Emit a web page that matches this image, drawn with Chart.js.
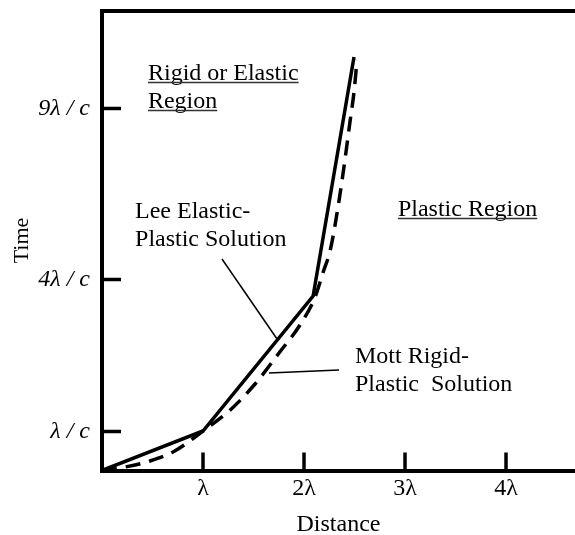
<!DOCTYPE html>
<html>
<head>
<meta charset="utf-8">
<script src="https://cdn.jsdelivr.net/npm/chart.js@4"></script>
<style>
  html, body { margin: 0; padding: 0; background: #fff; }
  #wrap { width: 575px; height: 535px; overflow: hidden; }
</style>
</head>
<body>
<div id="wrap"><canvas id="c" width="575" height="535"></canvas></div>
<script>
// ---- data (distance in units of λ, time in drawing units) ----
const xTickValues = [1, 2, 3, 4];
const xTickLabels = ['λ', '2λ', '3λ', '4λ'];
const yTickValues = [0.39, 1.91, 3.62];
const yTickLabels = ['λ / c', '4λ / c', '9λ / c'];

const leeX = [0, 1.0, 2.09, 2.495];
const leeY = [0, 0.395, 1.745, 4.135];

const mottX = [0, 0.23, 0.475, 0.72, 1.0, 1.27, 1.515, 1.76, 1.96, 2.11, 2.19, 2.26, 2.34, 2.405, 2.455, 2.495, 2.525];
const mottY = [0, 0.035, 0.095, 0.195, 0.395, 0.605, 0.865, 1.185, 1.455, 1.735, 1.985, 2.205, 2.655, 3.105, 3.485, 3.785, 4.105];

const labelTexts = [
  { lines: ['Rigid or Elastic', 'Region'], x: 0.455, y: 3.905, underline: true },
  { lines: ['Plastic Region'], x: 2.93, y: 2.545, underline: true },
  { lines: ['Lee Elastic-', 'Plastic Solution'], x: 0.327, y: 2.525, underline: false },
  { lines: ['Mott Rigid-', 'Plastic  Solution'], x: 2.505, y: 1.075, underline: false }
];
const leaderLines = [
  { x1: 1.188, y1: 2.115, x2: 1.733, y2: 1.315 },
  { x1: 1.653, y1: 0.975, x2: 2.347, y2: 1.005 }
];

const X_MAX = 4.683, Y_MAX = 4.6;
const FONT = "'Liberation Serif', 'Times New Roman', serif";

const toPts = (xs, ys) => xs.map((x, i) => ({ x: x, y: ys[i] }));

const innerTicks = {
  id: 'innerTicks',
  afterDraw(chart) {
    const { ctx, chartArea } = chart;
    const xs = chart.scales.x, ys = chart.scales.y;
    ctx.save();
    ctx.strokeStyle = '#000';
    ctx.lineWidth = 3.5;
    ctx.lineCap = 'butt';
    xTickValues.forEach(v => {
      const px = xs.getPixelForValue(v);
      ctx.beginPath();
      ctx.moveTo(px, chartArea.bottom);
      ctx.lineTo(px, chartArea.bottom - 18);
      ctx.stroke();
    });
    yTickValues.forEach(v => {
      const py = ys.getPixelForValue(v);
      ctx.beginPath();
      ctx.moveTo(chartArea.left, py);
      ctx.lineTo(chartArea.left + 19, py);
      ctx.stroke();
    });
    ctx.restore();
  }
};

const annotations = {
  id: 'annotations',
  afterDraw(chart) {
    const { ctx } = chart;
    const xs = chart.scales.x, ys = chart.scales.y;
    ctx.save();
    ctx.fillStyle = '#000';
    ctx.font = '24px ' + FONT;
    ctx.textBaseline = 'alphabetic';
    ctx.textAlign = 'left';
    labelTexts.forEach(t => {
      const px = xs.getPixelForValue(t.x);
      const py = ys.getPixelForValue(t.y);
      t.lines.forEach((line, i) => {
        const by = py + i * 28;
        ctx.fillText(line, px, by);
        if (t.underline) {
          const w = ctx.measureText(line).width;
          ctx.save();
          ctx.strokeStyle = '#333';
          ctx.lineWidth = 1.5;
          ctx.beginPath();
          ctx.moveTo(px, by + 2.5);
          ctx.lineTo(px + w, by + 2.5);
          ctx.stroke();
          ctx.restore();
        }
      });
    });
    ctx.strokeStyle = '#000';
    ctx.lineWidth = 1.5;
    leaderLines.forEach(l => {
      ctx.beginPath();
      ctx.moveTo(xs.getPixelForValue(l.x1), ys.getPixelForValue(l.y1));
      ctx.lineTo(xs.getPixelForValue(l.x2), ys.getPixelForValue(l.y2));
      ctx.stroke();
    });
    ctx.restore();
  }
};

new Chart(document.getElementById('c'), {
  type: 'line',
  data: {
    datasets: [
      {
        label: 'Mott Rigid-Plastic Solution',
        data: toPts(mottX, mottY),
        borderColor: '#000',
        borderWidth: 3.5,
        borderDash: [15, 9],
        borderCapStyle: 'butt',
        cubicInterpolationMode: 'monotone',
        pointRadius: 0,
        fill: false
      },
      {
        label: 'Lee Elastic-Plastic Solution',
        data: toPts(leeX, leeY),
        borderColor: '#000',
        borderWidth: 3.5,
        tension: 0,
        pointRadius: 0,
        fill: false
      }
    ]
  },
  options: {
    responsive: false,
    animation: false,
    devicePixelRatio: 1,
    layout: { padding: { left: 0, right: 0, top: 10.5, bottom: 0 } },
    plugins: { legend: { display: false }, tooltip: { enabled: false } },
    scales: {
      x: {
        type: 'linear',
        position: 'bottom',
        min: 0, max: X_MAX,
        afterBuildTicks: s => { s.ticks = xTickValues.map(v => ({ value: v })); },
        afterFit: s => { s.height = 64.5; s.paddingLeft = 0; s.paddingRight = 0; },
        grid: { display: false, drawTicks: false },
        border: { display: true, color: '#000', width: 4 },
        ticks: {
          autoSkip: false, maxRotation: 0, padding: 4, color: '#000',
          font: { family: FONT, size: 24 },
          callback: (v, i) => xTickLabels[i]
        },
        title: {
          display: true, text: 'Distance', color: '#000',
          font: { family: FONT, size: 24 },
          padding: { top: 0, bottom: -4 }
        }
      },
      xTop: {
        type: 'linear',
        position: 'top',
        min: 0, max: X_MAX,
        afterFit: s => { s.height = 0; s.paddingLeft = 0; s.paddingRight = 0; },
        grid: { display: false, drawTicks: false },
        border: { display: true, color: '#000', width: 4 },
        ticks: { display: false }
      },
      y: {
        type: 'linear',
        position: 'left',
        min: 0, max: Y_MAX,
        afterBuildTicks: s => { s.ticks = yTickValues.map(v => ({ value: v })); },
        afterFit: s => { s.width = 102; s.paddingTop = 0; s.paddingBottom = 0; },
        grid: { display: false, drawTicks: false },
        border: { display: true, color: '#000', width: 4 },
        ticks: {
          autoSkip: false, padding: 12, color: '#000',
          font: { family: FONT, size: 24, style: 'italic' },
          callback: (v, i) => yTickLabels[i]
        },
        title: {
          display: true, text: 'Time', color: '#000',
          font: { family: FONT, size: 22 },
          padding: { top: 9, bottom: 0 }
        }
      }
    }
  },
  plugins: [innerTicks, annotations]
});
</script>
</body>
</html>
